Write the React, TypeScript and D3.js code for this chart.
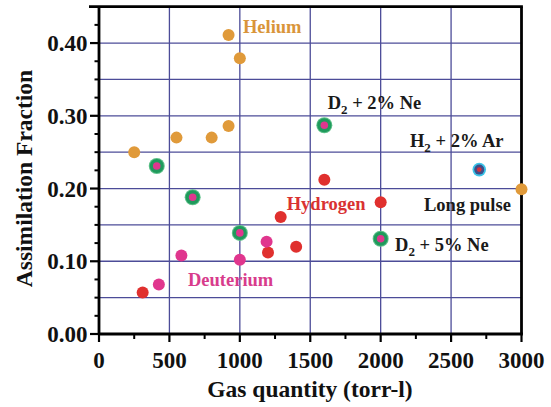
import React from "react";
import * as d3 from "d3";

// ---- data ----
const heliumX = [250, 550, 800, 920, 920, 1000, 3000];
const heliumY = [0.25, 0.27, 0.27, 0.286, 0.411, 0.379, 0.199];

const hydrogenX = [310, 1200, 1290, 1400, 1600, 2000];
const hydrogenY = [0.057, 0.112, 0.161, 0.12, 0.212, 0.181];

const deuteriumX = [425, 585, 1000, 1190];
const deuteriumY = [0.068, 0.108, 0.102, 0.127];

const d2NeX = [410, 665, 1000, 1600, 2000];
const d2NeY = [0.231, 0.188, 0.139, 0.287, 0.131];

const h2ArX = [2700];
const h2ArY = [0.226];

const xTickValues = [0, 500, 1000, 1500, 2000, 2500, 3000];
const yTickValues = [0, 0.1, 0.2, 0.3, 0.4];
const yTickLabels = ["0.00", "0.10", "0.20", "0.30", "0.40"];

// annotation labels: [main, subscript, rest], anchored in data space
const labelTexts = ["Helium", "D|2| + 2% Ne", "H|2| + 2% Ar", "Hydrogen", "Long pulse", "D|2| + 5% Ne", "Deuterium"];
const labelX = [1022, 1624, 2208, 1333, 2308, 2102, 632];
const labelY = [0.414, 0.3096, 0.2567, 0.1705, 0.1695, 0.1145, 0.0655];
const labelColors = ["#d9953a", "#1a1a1a", "#1a1a1a", "#d93232", "#1a1a1a", "#1a1a1a", "#d83c8c"];

const W = 551;
const H = 407;
const FONT = "'Liberation Serif', 'Times New Roman', serif";

export default function App() {
  const x = d3.scaleLinear().domain([0, 3000]).range([99, 521.5]);
  const y = d3.scaleLinear().domain([0, 0.45]).range([334, 6.7]);

  const gridColor = "#4c4c98";
  const xGrid = d3.range(500, 3000, 500);
  const yGrid = d3.range(0.05, 0.449, 0.05);
  const xMinor = d3.range(250, 3000, 500);
  const yMinor = d3.range(0.025, 0.45, 0.05);
  const yMinor2 = [0.05, 0.15, 0.25, 0.35];

  const orange = "#e09a3a";
  const red = "#e0302e";
  const magenta = "#e0368e";
  const green = "#1f9a5c";
  const cyan = "#3cc4e8";

  const renderLabel = (t: string, i: number) => {
    const parts = t.split("|");
    return (
      <text
        key={"lab" + i}
        x={x(labelX[i])}
        y={y(labelY[i])}
        fontFamily={FONT}
        fontWeight="bold"
        fontSize={18.5}
        fill={labelColors[i]}
      >
        {parts.length === 1 ? (
          parts[0]
        ) : (
          <>
            <tspan>{parts[0]}</tspan>
            <tspan fontSize={13} dy={5}>{parts[1]}</tspan>
            <tspan dy={-5}>{parts[2]}</tspan>
          </>
        )}
      </text>
    );
  };

  return (
    <svg
      width={W}
      height={H}
      style={{ position: "absolute", left: 0, top: 0, background: "#fff" }}
    >
      <rect x={0} y={0} width={W} height={H} fill="#fff" />
      {/* grid */}
      {xGrid.map((v) => (
        <line key={"xg" + v} x1={x(v)} x2={x(v)} y1={y(0)} y2={y(0.45)} stroke={gridColor} strokeWidth={1.3} />
      ))}
      {yGrid.map((v) => (
        <line key={"yg" + v} x1={x(0)} x2={x(3000)} y1={y(v)} y2={y(v)} stroke={gridColor} strokeWidth={1.3} />
      ))}

      {/* ticks */}
      {xTickValues.map((v) => (
        <line key={"xt" + v} x1={x(v)} x2={x(v)} y1={y(0)} y2={y(0) + 8} stroke="#000" strokeWidth={2.2} />
      ))}
      {xMinor.map((v) => (
        <line key={"xm" + v} x1={x(v)} x2={x(v)} y1={y(0)} y2={y(0) + 5} stroke="#000" strokeWidth={2} />
      ))}
      {yTickValues.map((v) => (
        <line key={"yt" + v} x1={x(0) - 9} x2={x(0)} y1={y(v)} y2={y(v)} stroke="#000" strokeWidth={2.2} />
      ))}
      {yMinor.concat(yMinor2).map((v, i) => (
        <line key={"ym" + i} x1={x(0) - 4.5} x2={x(0)} y1={y(v)} y2={y(v)} stroke="#000" strokeWidth={2} />
      ))}

      {/* frame */}
      <line x1={x(0)} x2={x(0)} y1={y(0.45)} y2={y(0)} stroke="#000" strokeWidth={2.8} />
      <line x1={x(3000)} x2={x(3000)} y1={y(0.45)} y2={y(0)} stroke="#000" strokeWidth={2.8} />
      <line x1={x(0)} x2={x(3000) + 1.4} y1={y(0)} y2={y(0)} stroke="#000" strokeWidth={2.8} />
      <line x1={x(0) - 10} x2={x(3000) + 1.4} y1={y(0.45)} y2={y(0.45)} stroke="#000" strokeWidth={2.8} />

      {/* tick labels */}
      {xTickValues.map((v) => (
        <text
          key={"xl" + v}
          x={x(v)}
          y={368}
          textAnchor="middle"
          fontFamily={FONT}
          fontWeight="bold"
          fontSize={23}
          fill="#111"
        >
          {v}
        </text>
      ))}
      {yTickValues.map((v, i) => (
        <text
          key={"yl" + v}
          x={87.5}
          y={y(v)}
          dy="0.35em"
          textAnchor="end"
          fontFamily={FONT}
          fontWeight="bold"
          fontSize={23}
          fill="#111"
        >
          {yTickLabels[i]}
        </text>
      ))}

      {/* axis titles */}
      <text
        x={310}
        y={397}
        textAnchor="middle"
        fontFamily={FONT}
        fontWeight="bold"
        fontSize={23.5}
        fill="#111"
      >
        Gas quantity (torr-l)
      </text>
      <text
        transform={`translate(32,178.5) rotate(-90)`}
        textAnchor="middle"
        fontFamily={FONT}
        fontWeight="bold"
        fontSize={23.5}
        fill="#111"
      >
        Assimilation Fraction
      </text>

      {/* data points */}
      {heliumX.map((v, i) => (
        <circle key={"he" + i} cx={x(v)} cy={y(heliumY[i])} r={6} fill={orange} />
      ))}
      {hydrogenX.map((v, i) => (
        <circle key={"h" + i} cx={x(v)} cy={y(hydrogenY[i])} r={6} fill={red} />
      ))}
      {deuteriumX.map((v, i) => (
        <circle key={"d" + i} cx={x(v)} cy={y(deuteriumY[i])} r={6} fill={magenta} />
      ))}
      {d2NeX.map((v, i) => (
        <g key={"dn" + i}>
          <circle cx={x(v)} cy={y(d2NeY[i])} r={8} fill="#5cbf88" />
          <circle cx={x(v)} cy={y(d2NeY[i])} r={7} fill={green} />
          <circle cx={x(v)} cy={y(d2NeY[i])} r={3.8} fill={magenta} />
        </g>
      ))}
      {h2ArX.map((v, i) => (
        <g key={"ha" + i}>
          <circle cx={x(v)} cy={y(h2ArY[i])} r={6.8} fill={cyan} />
          <circle cx={x(v)} cy={y(h2ArY[i])} r={5} fill="#3d4f8a" />
          <circle cx={x(v)} cy={y(h2ArY[i])} r={2.4} fill="#d8303c" />
        </g>
      ))}

      {/* annotations */}
      {labelTexts.map(renderLabel)}
    </svg>
  );
}
